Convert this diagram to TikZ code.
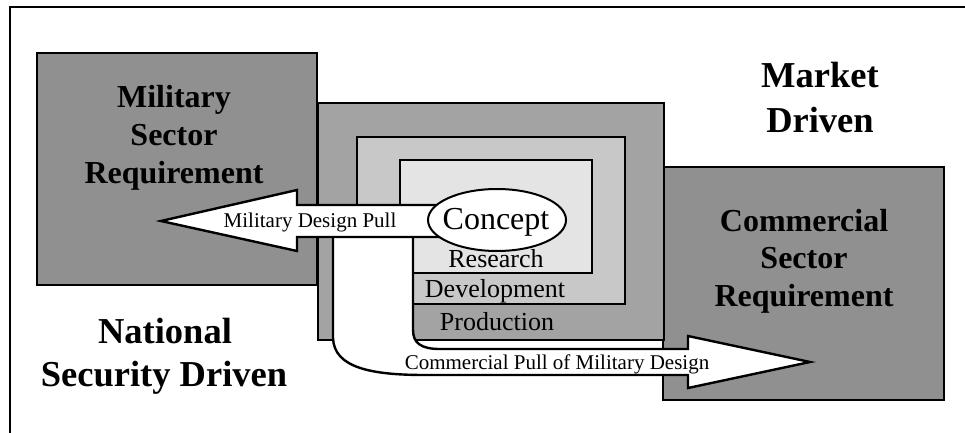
\documentclass[tikz,border=0pt]{standalone}
\usepackage{fontspec}
\setmainfont{Liberation Serif}
\usetikzlibrary{shapes.geometric}
\definecolor{milgray}{gray}{0.565}
\definecolor{prodgray}{gray}{0.64}
\definecolor{devgray}{gray}{0.785}
\definecolor{resgray}{gray}{0.895}
\begin{document}
\begin{tikzpicture}[x=1pt,y=-1pt,
  boxstyle/.style={draw=black, line width=1.8pt},
  blockarrow/.style={draw=black, fill=white, line width=2.4pt, line join=miter},
  lbl/.style={anchor=base, inner sep=0pt, outer sep=0pt},
  sectortext/.style={lbl, font=\fontsize{32}{38}\selectfont\bfseries},
  driventext/.style={lbl, font=\fontsize{36.5}{42}\selectfont\bfseries},
  stagetext/.style={lbl, font=\fontsize{26}{30}\selectfont},
  arrowtext/.style={lbl, font=\fontsize{21}{25}\selectfont}]
\useasboundingbox (0,0) rectangle (965,433);
\fill[white] (0,0) rectangle (965,433);
% frame
\draw[line width=2.5pt] (10,433) -- (10,7) -- (965,7);
% sector boxes
\draw[boxstyle, fill=milgray] (37,53) rectangle (317,285);
\draw[boxstyle, fill=milgray] (663,167) rectangle (944,400);
% nested stage boxes
\draw[boxstyle, fill=prodgray] (318,103) rectangle (664,340);
\draw[boxstyle, fill=devgray] (357,137) rectangle (625,304);
\draw[boxstyle, fill=resgray] (400,160) rectangle (592,273);
% commercial pull arrow
\draw[blockarrow] (333,225) -- (333,338)
  .. controls (334,368) and (372,375) .. (425,375) -- (688,375) -- (688,388)
  -- (810,362) -- (688,336) -- (688,349) -- (440,349)
  .. controls (421,349) and (413,343) .. (413,330) -- (413,225) -- cycle;
% military design pull arrow
\draw[blockarrow] (161,221) -- (297,190) -- (297,205) -- (470,205)
  -- (470,237) -- (297,237) -- (297,251) -- cycle;
% concept ellipse
\draw[fill=white, line width=2pt] (497,220) ellipse [x radius=69pt, y radius=31pt];
\node[lbl, font=\fontsize{32}{38}\selectfont] (concept) at (496,229) {Concept};
% texts
\node[sectortext] (mil1) at (174,107) {Military};
\node[sectortext] (mil2) at (174,145) {Sector};
\node[sectortext] (mil3) at (174,183) {Requirement};
\node[sectortext] (com1) at (804,231) {Commercial};
\node[sectortext] (com2) at (804,268) {Sector};
\node[sectortext] (com3) at (804,306) {Requirement};
\node[driventext] (mkt1) at (820,88) {Market};
\node[driventext] (mkt2) at (820,132) {Driven};
\node[driventext] (nat1) at (165,343) {National};
\node[driventext] (nat2) at (164,386) {Security Driven};
\node[stagetext] (res) at (496,267) {Research};
\node[stagetext] (dev) at (495,297) {Development};
\node[stagetext] (prod) at (497,330) {Production};
\node[arrowtext] (mdp) at (310,227) {Military Design Pull};
\node[arrowtext] (cpm) at (557,369) {Commercial Pull of Military Design};
\end{tikzpicture}
\end{document}
